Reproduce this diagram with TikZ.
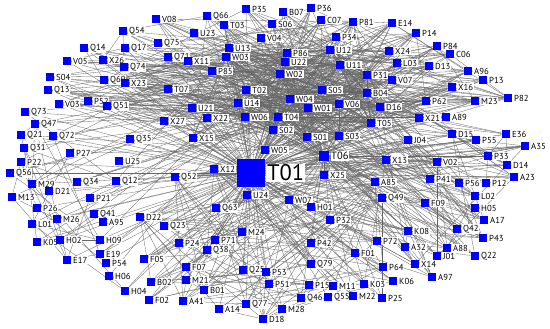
\documentclass[tikz,border=0pt]{standalone}
\usepackage{fontspec}
\setmainfont{PT Sans}
\usetikzlibrary{backgrounds}

\tikzset{
  vert/.style={rectangle, fill=blue, minimum size=6pt, inner sep=0pt},
  lab/.style={fill=white, inner sep=0.5pt, font=\fontsize{6.2}{7}\selectfont},
  link/.style={draw=black!60, line width=0.22pt},
  label distance=0.5pt
}

% nos por grupo: nome/x/y (pixels)
\def\corelist{W01/308/108, W02/280/74, W03/226/57, W04/290/99, W05/265/150,
  W06/245/117, U11/340/65, U12/330/50, U13/229/48, U14/238/103, U22/285/62,
  P86/287/53, S01/307/137, S02/273/130, S03/339/136, S05/322/90, T02/246/90,
  T04/278/117, T05/371/123, D16/380/107, B04/367/93, P31/367/75, V06/339/104}
\def\toplist{Q54/123/31, Q14/84/48, Q17/125/48, V05/67/61, X26/103/60,
  Q74/124/67, S04/50/77, Q69/104/80, X23/125/83, Q13/48/90, V03/59/104,
  P52/88/101, Q51/107/106, V08/156/19, Q66/207/16, P35/246/9, T03/224/25,
  B07/283/12, P36/311/8, S06/272/24, C07/321/20, P81/353/22, E14/392/23,
  V04/261/38, U23/194/33, Q75/158/43, Q71/168/57, X11/188/61, P85/212/71,
  P34/336/37, X24/389/51, L03/397/63, V07/392/80, T07/168/89, U21/192/108,
  P14/416/33, P84/437/46, C06/450/54, D13/429/66, A96/468/71, P13/483/80,
  X16/452/87, P82/508/98, M23/475/101, P62/426/101, X27/164/121, X22/207/118,
  X15/193/138, X21/419/118, A89/446/117}
\def\leftlist{Q73/25/112, Q47/35/124, Q21/21/135, Q72/53/136, Q31/24/148,
  P27/70/153, P22/21/162, U25/119/161, Q56/10/173, M29/32/184, Q34/77/182,
  Q12/116/181, D21/49/191, M13/12/197, P21/90/198, P26/37/208, Q41/94/214,
  M26/57/219, Q35/130/139, L01/32/224, A95/103/222, K05/37/242, H02/60/240,
  H09/100/240, E19/100/254, E17/67/260, P54/106/263, H06/109/276, H04/125/291}
\def\midlist{X12/214/169, Q52/175/177, U24/247/195, Q63/216/208, D22/140/217,
  X13/386/160, X25/324/175, A85/375/182, Q49/382/198, W07/289/200,
  H01/311/207, P32/330/220}
\def\rightlist{J04/408/140, D15/452/134, P55/476/140, E36/506/134,
  A35/525/146, P33/488/156, V02/437/162, D14/507/165, A23/514/177,
  P41/430/179, P56/459/183, P12/486/183, L02/475/196, F09/425/203,
  H05/475/208, A17/484/220, K08/408/231, Q42/457/229, P43/483/238,
  A88/447/248, J01/437/256, Q22/475/256, X14/415/264, A97/432/277, A32/405/247}
\def\bottomlist{Q23/164/226, M24/242/232, P24/179/243, P71/215/240,
  Q38/207/250, F05/144/259, F07/186/267, Q25/243/270, P53/266/272,
  B02/151/282, M21/186/280, P51/269/284, B01/204/290, F02/149/300,
  A41/183/301, Q77/246/304, A14/219/309, D18/263/319, P42/311/243,
  P72/377/241, F01/355/253, Q79/311/264, P64/383/267, K06/393/281,
  P15/309/285, M11/333/286, K03/364/284, Q46/301/298, Q55/328/297,
  M22/353/296, P25/382/298, M28/282/309}

% coloca os nos de um grupo
\newcommand{\placenodes}[1]{%
  \foreach \n/\x/\y in #1
    \node[vert, label={[lab]right:\n}] (\n) at (\x,\y) {};}
% liga um hub a um grupo (com probabilidade)
\newcommand{\hublinks}[3]{%
  \foreach \n/\x/\y in #2 {
    \pgfmathtruncatemacro\hit{rnd<#3}
    \ifnum\hit=1 \draw[link] (#1) -- (\n);\fi
  }}
% ligacoes sorteadas entre dois grupos
\newcommand{\randlinks}[3]{%
  \foreach \a/\ax/\ay in #1 {
    \foreach \b/\bx/\by in #2 {
      \pgfmathtruncatemacro\hit{rnd<#3}
      \ifx\a\b\else\ifnum\hit=1 \draw[link] (\a) -- (\b);\fi\fi
    }
  }}

\begin{document}
\begin{tikzpicture}[x=0.025cm, y=-0.025cm]
  \useasboundingbox (0,0) rectangle (550,328);
  \pgfmathsetseed{12}
  % hubs
  \node[vert, minimum size=20pt, label={[lab, font=\fontsize{16}{16}\selectfont]right:T01}] (T01) at (251,173) {};
  \node[vert, minimum size=7.5pt, label={[lab, font=\fontsize{7.5}{8}\selectfont]right:T06}] (T06) at (324,156) {};
  % demais nos
  \placenodes{\corelist}
  \placenodes{\toplist}
  \placenodes{\leftlist}
  \placenodes{\midlist}
  \placenodes{\rightlist}
  \placenodes{\bottomlist}

  \begin{pgfonlayer}{background}
    % T01 ligado a quase todos
    \draw[link] (T01) -- (T06);
    \hublinks{T01}{\corelist}{2}
    \hublinks{T01}{\toplist}{0.9}
    \hublinks{T01}{\leftlist}{0.8}
    \hublinks{T01}{\midlist}{2}
    \hublinks{T01}{\rightlist}{0.8}
    \hublinks{T01}{\bottomlist}{0.9}
    % T06
    \hublinks{T06}{\corelist}{2}
    \hublinks{T06}{\midlist}{2}
    \hublinks{T06}{\rightlist}{0.8}
    \hublinks{T06}{\toplist}{0.35}
    \hublinks{T06}{\bottomlist}{0.35}
    % malha do centro
    \randlinks{\corelist}{\corelist}{0.4}
    \randlinks{\corelist}{\toplist}{0.28}
    \randlinks{\corelist}{\rightlist}{0.1}
    \randlinks{\corelist}{\leftlist}{0.05}
    \randlinks{\midlist}{\bottomlist}{0.2}
    \randlinks{\midlist}{\rightlist}{0.15}
    \randlinks{\leftlist}{\leftlist}{0.025}
    \randlinks{\rightlist}{\rightlist}{0.06}
    \randlinks{\bottomlist}{\bottomlist}{0.035}
    \randlinks{\toplist}{\toplist}{0.02}
  \end{pgfonlayer}
\end{tikzpicture}
\end{document}
